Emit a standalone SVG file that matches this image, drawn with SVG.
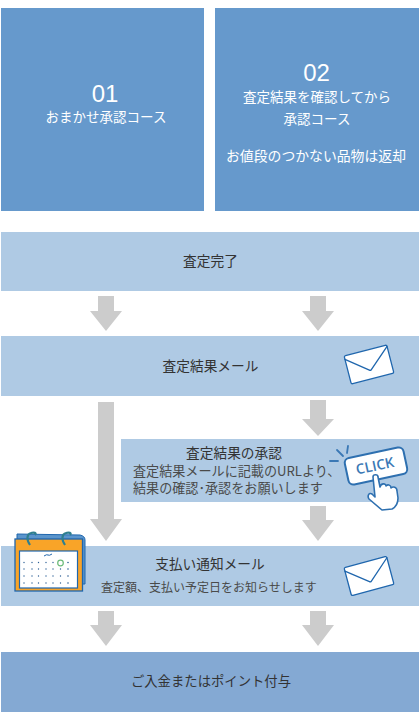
<svg xmlns="http://www.w3.org/2000/svg" width="420" height="720" viewBox="0 0 420 720">
<defs>
<style>
text{font-family:"Noto Sans CJK JP","Liberation Sans",sans-serif;text-anchor:middle}
.w{fill:#fff;font-size:13.500px}
.num{fill:#fff;font-size:24px;font-family:"Liberation Sans","Noto Sans",sans-serif}
.d{fill:#333;font-size:13.700px}
.g{fill:#4a4a4a;font-size:12px}
.l{fill:#4a4a4a;font-size:13.100px;text-anchor:start}
.course{fill:#6699cc}
.row{fill:#afcae4}
.final{fill:#84a9d3}
.arr{fill:#cccccc}
.env{fill:#fff;stroke:#1f66ad;stroke-width:1.300;stroke-linejoin:round}
.ln{fill:none;stroke:#1f66ad;stroke-width:1.300;stroke-linejoin:round;stroke-linecap:round}
</style>
<g id="envelope">
<rect x="-22" y="-14.500" width="44" height="29" rx="1.500" class="env"/>
<path d="M-22-11 L-1 5.500 Q0 6.500 1 5.500 L22-13" class="ln"/>
</g>
</defs>
<g id="connectors">
<path class="arr" d="M98 296H114V311H122L106 331L90 311H98Z"/>
<path class="arr" d="M310 296H326V311H334L318 331L302 311H310Z"/>
<path class="arr" d="M98 402H114V519H122L106 541L90 519H98Z"/>
<path class="arr" d="M310 400H326V419H334L318 436L302 419H310Z"/>
<path class="arr" d="M310 506H326V520H334L318 541L302 520H310Z"/>
<path class="arr" d="M98 611H114V625H122L106 646L90 625H98Z"/>
<path class="arr" d="M310 611H326V625H334L318 646L302 625H310Z"/>
</g>
<g id="course01">
<rect class="course" x="1" y="8" width="203" height="203"/>
<text class="num" x="105" y="102">01</text>
<text class="w" x="106" y="122">おまかせ承認コース</text>
</g>
<g id="course02">
<rect class="course" x="215" y="8" width="204" height="203"/>
<text class="num" x="316.500" y="81">02</text>
<text class="w" x="317" y="102">査定結果を確認してから</text>
<text class="w" x="317" y="124">承認コース</text>
<text class="w" style="font-size:13.850px" x="316" y="161">お値段のつかない品物は返却</text>
</g>
<g id="step-complete">
<rect class="row" x="1" y="232" width="418" height="59"/>
<text class="d" x="210.500" y="266">査定完了</text>
</g>
<g id="step-mail">
<rect class="row" x="1" y="336" width="418" height="60"/>
<text class="d" x="210.500" y="371">査定結果メール</text>
<use href="#envelope" transform="translate(369 364.500) rotate(-14.500)"/>
</g>
<g id="step-approve">
<rect class="row" x="121" y="439" width="298" height="63"/>
<text class="d" x="234" y="458">査定結果の承認</text>
<text class="l"><tspan x="133" y="476">査定結果メールに記載のURLより、</tspan><tspan x="133" y="493">結果の確認･承認をお願いします</tspan></text>
<g id="click">
<path class="ln" style="stroke:#3a78b5;stroke-width:1.800" d="M330 461H338M337 450L343 456M348 446L347 453"/>
<rect x="-30" y="-13.500" width="60" height="27" rx="5" transform="translate(376 466) rotate(-12)" fill="#fff" stroke="#2e70b0" stroke-width="2"/>
<text x="375" y="470.500" transform="rotate(-12 376 466)" style="font-family:'Open Sans',sans-serif;font-weight:600;font-size:14px;fill:#3a78b5">CLICK</text>
<path d="M373 477C373 474 378 474 378 477L380 487C381 483 386 483 386 486C388 484 391 485 391 488C393 486 397 487 397 491L398 498C398 503 396 507 392 509L382 510L369 499C367 496 369 492 372 494L375 497Z" fill="#fff" stroke="#2e70b0" stroke-width="1.600" stroke-linejoin="round"/>
</g>
</g>
<g id="step-pay">
<rect class="row" x="1" y="546" width="418" height="60"/>
<text class="d" x="210" y="569">支払い通知メール</text>
<text class="g" x="209" y="592">査定額、支払い予定日をお知らせします</text>
<use href="#envelope" transform="translate(369 576) rotate(-15)"/>
<g id="calendar">
<path d="M17 534L80 535Q85 536 85 540V584H81V540H17Z" fill="#5b95cc" stroke="#1f66ad" stroke-width="1"/>
<rect x="15" y="539" width="67.500" height="52" fill="#f9a428" stroke="#1f66ad" stroke-width="1.300"/>
<rect x="19.500" y="551" width="58" height="37" fill="#fff" stroke="#1f66ad" stroke-width="1.200"/>
<path d="M30 545C26 539 27 534 31 533C34 532 37 533 35 535M65 545C61 539 62 534 66 533C69 532 72 533 70 535" fill="none" stroke="#2f7f8f" stroke-width="2.200"/>
<path d="M44 556Q47 554 48 555T52 554" fill="none" stroke="#1f66ad" stroke-width="1"/>
<g id="dots" fill="#2c5f95">
<circle cx="24" cy="562.500" r=".7"/><circle cx="32" cy="562.500" r=".7"/><circle cx="38.500" cy="562.500" r=".7"/><circle cx="46" cy="562.500" r=".7"/><circle cx="53" cy="562.500" r=".7"/><circle cx="68" cy="562.500" r=".8"/>
<circle cx="24" cy="569" r=".7"/><circle cx="32" cy="569" r=".7"/><circle cx="38.500" cy="569" r=".7"/><circle cx="46" cy="569" r=".7"/><circle cx="53" cy="569" r=".7"/><circle cx="60.500" cy="569" r=".7"/><circle cx="68" cy="569" r=".8"/>
<circle cx="24" cy="576" r=".7"/><circle cx="32" cy="576" r=".7"/><circle cx="38.500" cy="576" r=".7"/><circle cx="46" cy="576" r=".7"/><circle cx="53" cy="576" r=".7"/><circle cx="60.500" cy="576" r=".7"/><circle cx="68" cy="576" r=".8"/>
<circle cx="24" cy="583" r=".7"/><circle cx="32" cy="583" r=".7"/><circle cx="38.500" cy="583" r=".7"/><circle cx="46" cy="583" r=".7"/><circle cx="53" cy="583" r=".7"/><circle cx="60.500" cy="583" r=".7"/><circle cx="68" cy="583" r=".8"/>
</g>
<circle cx="60.500" cy="563" r="2.800" fill="#fff" stroke="#6cbb7a" stroke-width="1.200"/>
</g>
</g>
<g id="step-final">
<rect class="final" x="1" y="652" width="418" height="60"/>
<text class="d" style="font-size:13.350px" x="211" y="686">ご入金またはポイント付与</text>
</g>
</svg>
